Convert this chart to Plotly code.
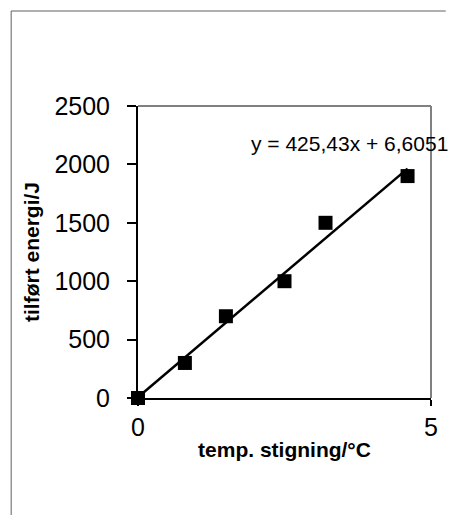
import numpy as np
import plotly.graph_objects as go

temp_rise = [0, 0.8, 1.5, 2.5, 3.2, 4.6]
energy = [0, 300, 700, 1000, 1500, 1900]
x_ticks = [0, 5]
y_ticks = [0, 500, 1000, 1500, 2000, 2500]

slope, intercept = np.polyfit(temp_rise, energy, 1)
line_x = [min(temp_rise), max(temp_rise)]
line_y = [slope * v + intercept for v in line_x]
eq_text = "y = " + f"{slope:.2f}".replace(".", ",") + "x + " + f"{intercept:.4f}".replace(".", ",")

FONT = "Liberation Sans, Arial, sans-serif"

fig = go.Figure()
fig.add_trace(go.Scatter(x=line_x, y=line_y, mode="lines",
                         line=dict(color="black", width=2.5),
                         showlegend=False, hoverinfo="skip", cliponaxis=False))
fig.add_trace(go.Scatter(x=temp_rise, y=energy, mode="markers",
                         marker=dict(symbol="square", size=14, color="black"),
                         showlegend=False, cliponaxis=False))

L, R, T, B = 138, 14, 106, 117
W, H = 450, 515
pw, ph = W - L - R, H - T - B

def px(x):
    return (x - L) / pw

def py(y):
    return (H - B - y) / ph

fig.update_layout(
    width=W, height=H,
    margin=dict(l=L, r=R, t=T, b=B),
    paper_bgcolor="white", plot_bgcolor="white",
    font=dict(family=FONT, color="black"),
    xaxis=dict(range=[0, 5], tickvals=x_ticks, ticks="outside", ticklen=6,
               tickcolor="black", tickwidth=1.5,
               showline=True, linecolor="black", linewidth=2, showgrid=False, zeroline=False,
               tickfont=dict(size=25, family=FONT), ticklabelstandoff=0,
               title=dict(text="<b>temp. stigning/°C</b>", font=dict(size=21, family=FONT), standoff=2)),
    yaxis=dict(range=[0, 2500], tickvals=y_ticks, ticks="outside", ticklen=9,
               tickcolor="black", tickwidth=1.5,
               showline=True, linecolor="black", linewidth=2, showgrid=False, zeroline=False,
               tickfont=dict(size=25, family=FONT), ticklabelstandoff=12,
               title=dict(text="<b>tilført energi/J</b>", font=dict(size=21, family=FONT), standoff=9)),
    shapes=[
        dict(type="line", xref="paper", yref="paper", x0=0, x1=1, y0=1, y1=1,
             line=dict(color="#808080", width=2)),
        dict(type="line", xref="paper", yref="paper", x0=1, x1=1, y0=0, y1=1,
             line=dict(color="#808080", width=2)),
        dict(type="line", xref="paper", yref="paper", x0=px(9), x1=px(451), y0=py(11), y1=py(11),
             line=dict(color="#606060", width=1)),
        dict(type="line", xref="paper", yref="paper", x0=px(9), x1=px(9), y0=py(11), y1=py(516),
             line=dict(color="#606060", width=1)),
    ],
    annotations=[
        dict(text=eq_text, xref="paper", yref="paper", x=px(251), y=py(143),
             xanchor="left", yanchor="middle", showarrow=False,
             font=dict(size=21, family=FONT, color="black")),
    ],
)

fig.write_html("out.html")
